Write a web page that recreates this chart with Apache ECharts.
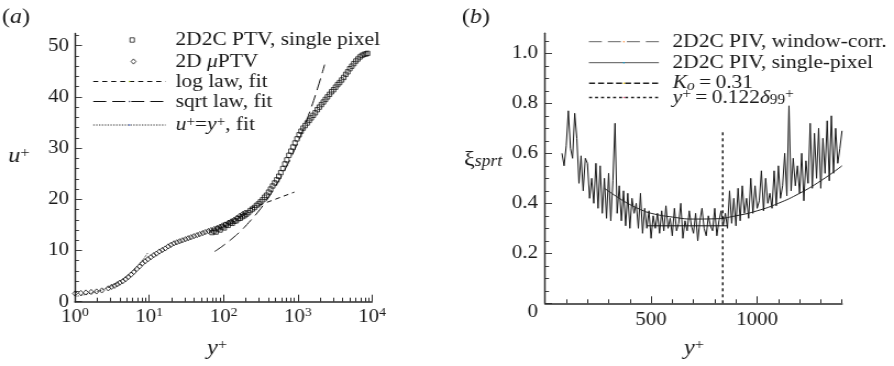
<!DOCTYPE html>
<html><head><meta charset="utf-8">
<script src="https://cdn.jsdelivr.net/npm/echarts@6/dist/echarts.min.js"></script>
<style>
html,body{margin:0;padding:0;background:#fff;overflow:hidden}
#wrap{width:894px;height:366px;overflow:hidden}
#c{width:813px;height:366px;transform:scaleX(1.099631);transform-origin:0 0}
</style></head>
<body><div id="wrap"><div id="c"></div></div>
<script>
// ---------- Panel (a) data ----------
const ptvYp = [70,74.5,79,84,90,96,102,108,115,123,131,139,148,158,168,179,191,203,216,230,245,261,278,296,315,336,357,380,405,431,459,489,521,555,591,629,670,713,760,809,862,918,977,1041,1108,1180,1257,1339,1426,1518,1617,1722,1834,1953,2080,2215,2359,2512,2675,2849,3034,3231,3441,3665,3903,4157,4427,4715,5021,5347,5695,6065,6459,6879,7326,7802,8309,8700];
const ptvU  = [13.5,13.8,13.6,14.2,14.0,14.6,14.4,15.0,14.9,15.4,15.3,15.7,15.8,16.2,16.3,16.6,16.8,17.1,17.4,17.8,18.1,18.4,18.8,19.1,19.5,19.9,20.4,20.8,21.4,22.0,22.6,23.2,23.8,24.5,25.2,26.0,26.9,27.7,28.6,29.4,30.2,31.0,31.8,32.6,33.3,33.9,34.4,34.9,35.4,35.9,36.4,36.9,37.5,38.0,38.5,39.0,39.5,40.0,40.5,41.0,41.4,41.9,42.4,42.8,43.3,43.8,44.4,44.9,45.5,46.0,46.5,47.0,47.4,47.8,48.1,48.3,48.4,48.5];
const muYp = [1.0,1.2,1.4,1.65,1.95,2.3,2.8,3.1,3.4,3.7,4.0,4.4,4.8,5.2,5.7,6.2,6.8,7.4,8.1,8.8,9.6,10.5,11.5,12.5,13.7,15,16.4,18,19.6,21.5,23.5,25.7,28,30.7,33.5,36.6,40,44,48,52.5,57,62.5,68,75,82,89,97,106,116,127,139,152,166,180,195];
const muU  = [1.6,1.7,1.8,1.9,2.0,2.2,2.6,2.9,3.1,3.4,3.7,4.0,4.4,4.8,5.3,5.8,6.4,6.9,7.5,7.9,8.3,8.7,9.1,9.4,9.8,10.1,10.4,10.8,11.1,11.4,11.6,11.8,12.0,12.2,12.4,12.6,12.8,13.0,13.2,13.4,13.6,13.8,14.0,14.2,14.4,14.6,14.9,15.1,15.4,15.7,16.0,16.4,16.8,17.1,17.4];
const logLawYp = [230, 900];
const logLawU  = [18.2, 21.4];
const sqrtYp = [76,100,130,170,220,290,380,500,650,850,1100,1450,1850,2300];
const sqrtU  = [9.8,11.0,12.3,13.8,15.5,17.5,19.8,22.5,25.4,28.8,32.5,37.1,41.7,46.3];
const linYp = [1,2,3,4,5,6,7,8,9,9.5];
const linU  = [1,2,3,4,5,6,7,8,9,9.5];
const xTickValsA = [1,10,100,1000,10000];
const xTickExpA  = ['0','1','2','3','4'];
const xMinorA = [2,3,4,5,6,7,8,9,20,30,40,50,60,70,80,90,200,300,400,500,600,700,800,900,2000,3000,4000,5000,6000,7000,8000,9000];
const yTickValsA = [0,10,20,30,40,50];
const yMinorA = [2,4,6,8,12,14,16,18,22,24,26,28,32,34,36,38,42,44,46,48,52];

// ---------- Panel (b) data ----------
const spYp = [80,90,100,110,120,130,140,150,160,170,180,190,200,210,220,230,240,250,260,270,280,290,300,310,320,330,340,350,360,370,380,390,400,410,420,430,440,450,460,470,480,490,500,510,520,530,540,550,560,570,580,590,600,610,620,630,640,650,660,670,680,690,700,710,720,730,740,750,760,770,780,790,800,810,820,830,840,850,860,870,880,890,900,910,920,930,940,950,960,970,980,990,1000,1010,1020,1030,1040,1050,1060,1070,1080,1090,1100,1110,1120,1130,1140,1150,1160,1170,1180,1190,1200,1210,1220,1230,1240,1250,1260,1270,1280,1290,1300,1310,1320,1330,1340,1350,1360,1370,1380,1390,1400];
const spXi = [0.60,0.55,0.63,0.77,0.62,0.58,0.76,0.66,0.48,0.59,0.45,0.58,0.56,0.42,0.50,0.40,0.56,0.38,0.55,0.36,0.50,0.34,0.52,0.33,0.49,0.72,0.36,0.47,0.33,0.45,0.31,0.44,0.30,0.42,0.36,0.40,0.30,0.44,0.28,0.38,0.30,0.37,0.26,0.35,0.30,0.36,0.28,0.37,0.29,0.39,0.30,0.34,0.27,0.38,0.29,0.32,0.40,0.26,0.33,0.29,0.37,0.31,0.28,0.36,0.25,0.33,0.38,0.30,0.27,0.35,0.31,0.29,0.38,0.27,0.33,0.37,0.31,0.36,0.30,0.45,0.32,0.42,0.31,0.46,0.33,0.47,0.36,0.42,0.34,0.50,0.36,0.47,0.38,0.41,0.53,0.37,0.50,0.40,0.44,0.38,0.53,0.39,0.55,0.42,0.47,0.60,0.43,0.79,0.45,0.58,0.47,0.55,0.44,0.60,0.41,0.57,0.48,0.72,0.46,0.68,0.50,0.70,0.46,0.66,0.52,0.73,0.49,0.75,0.52,0.70,0.56,0.62,0.69];
const wcYp = [280,350,400,450,500,600,700,800,900,1000,1100,1200,1300,1400];
const wcXi = [0.46,0.42,0.395,0.375,0.36,0.345,0.337,0.338,0.35,0.37,0.40,0.44,0.49,0.55];
const koYp = [480, 860];
const koXi = [0.31, 0.31];
const vlineYp = [838, 838];
const vlineXi = [0, 0.69];
const xTickValsB = [500, 1000];
const xMinorB = [100,200,300,400,600,700,800,900,1100,1200,1300,1400];
const yTickValsB = [0,0.2,0.4,0.6,0.8,1.0];
const yTickLabelsB = ['0','0.2','0.4','0.6','0.8','1.0'];
const yMinorB = [0.05,0.1,0.15,0.25,0.3,0.35,0.45,0.5,0.55,0.65,0.7,0.75,0.85,0.9,0.95,1.05];

// ---------- helpers ----------
const S = 1.099631;          // horizontal stretch applied to the whole page
const px = v => v / S;       // physical x -> chart x
const FONT = '"Liberation Serif","Times New Roman",serif';
const TXT = '#1a1a1a';
const AX = '#2a2a2a';
const FT = 19;     // tick label font
const FL = 19.5;   // legend font
const pairs = (xs, ys) => xs.map((x, i) => [x, ys[i]]);
function mkRich(fs, sfs) {
  return {
    i:    {fontFamily: FONT, fontSize: fs, fontStyle: 'italic', lineHeight: 20, color: TXT},
    b:    {fontFamily: FONT, fontSize: fs, lineHeight: 20, color: TXT},
    sup:  {fontFamily: FONT, fontSize: sfs, lineHeight: 12, verticalAlign: 'top', color: TXT},
    isup: {fontFamily: FONT, fontSize: sfs, fontStyle: 'italic', lineHeight: 12, verticalAlign: 'top', color: TXT},
    sub:  {fontFamily: FONT, fontSize: sfs, lineHeight: 12, verticalAlign: 'bottom', color: TXT},
    isub: {fontFamily: FONT, fontSize: sfs, fontStyle: 'italic', lineHeight: 12, verticalAlign: 'bottom', color: TXT},
    z:    {fontFamily: FONT, fontSize: fs, lineHeight: 20, color: TXT, padding: [18, 0, 0, 0]},
    xs:   {fontFamily: FONT, fontSize: 16, fontStyle: 'italic', lineHeight: 14, verticalAlign: 'bottom', color: TXT}
  };
}
const RICH_T = mkRich(FT, 12.5);
const RICH_L = mkRich(FL, 14);
const RICH_H = mkRich(22, 15);
const textBase = {fontFamily: FONT, fontSize: FL, color: TXT, lineHeight: 20, rich: RICH_L};

const LEG_RICH = {
  'u+=y+, fit': '{i|u}{sup|+}={i|y}{sup|+}, fit',
  '2D μPTV': '2D {i|μ}PTV',
  'Ko=0.31': '{i|K}{isub|o}\u2009=\u20090.31',
  'y+=0.122δ99+': '{i|y}{sup|+}\u2009=\u20090.122{i|δ}{sub|99}{sup|+}'
};

function legendItem(name, left, centerY, w, h, textStart, cfg) {
  return Object.assign({
    show: true, data: [name], left: left, top: centerY - 10, padding: 0,
    itemWidth: w, itemHeight: h, itemGap: 0, selectedMode: false, symbolKeepAspect: false,
    formatter: n => LEG_RICH[n] || n,
    textStyle: Object.assign({}, textBase, {padding: [0, 0, 0, Math.max(0, textStart - left - w - 5)]})
  }, cfg);
}

function logAxis(grid, main) {
  return {
    type: 'log', logBase: 10, gridIndex: grid, min: 1, max: 10000, position: 'bottom',
    axisLine: {show: main, lineStyle: {color: AX, width: 1.6}},
    axisTick: main ? {inside: true, length: 7, lineStyle: {color: AX, width: 1}, customValues: xTickValsA}
                   : {inside: true, length: 4, lineStyle: {color: AX, width: 1}, customValues: xMinorA},
    axisLabel: main ? {show: true, margin: 5, customValues: xTickValsA, color: TXT, fontFamily: FONT, fontSize: FT,
      formatter: v => { let k = 0, best = 1e9; xTickValsA.forEach((t, i) => { const d = Math.abs(Math.log10(t) - Math.log10(v)); if (d < best) { best = d; k = i; } }); return '{b|10}{sup|' + xTickExpA[k] + '}'; },
      rich: RICH_T} : {show: false},
    splitLine: {show: false}, minorTick: {show: false}
  };
}
function valAxis(grid, min, max, main, majors, minors, pos, fmt, margin, isY) {
  const lw = isY ? 1.45 : 1.6, tw = isY ? 0.9 : 1;
  const Lmaj = isY ? px(7) : 7, Lmin = isY ? px(4) : 4;
  return {
    type: 'value', gridIndex: grid, min: min, max: max, position: pos,
    axisLine: {show: main, lineStyle: {color: AX, width: lw}},
    axisTick: main ? {inside: true, length: Lmaj, lineStyle: {color: AX, width: tw}, customValues: majors}
                   : {inside: true, length: Lmin, lineStyle: {color: AX, width: tw}, customValues: minors},
    axisLabel: main ? {show: true, margin: margin, customValues: majors, color: TXT, fontFamily: FONT, fontSize: FT, formatter: fmt, rich: RICH_T} : {show: false},
    splitLine: {show: false}
  };
}

const hollow = {color: 'rgba(255,255,255,0)', borderColor: '#000', borderWidth: 0.9};

const option = {
  animation: false,
  backgroundColor: '#fff',
  grid: [
    {left: px(75), width: px(297), top: 33.4, height: 268.3},
    {left: px(545), width: px(297), top: 33.3, height: 270}
  ],
  xAxis: [
    logAxis(0, true), logAxis(0, false),
    valAxis(1, 0, 1400, true, xTickValsB, null, 'bottom', v => { const i = xTickValsB.indexOf(v); return i >= 0 ? String(xTickValsB[i]) : ''; }, 7, false),
    valAxis(1, 0, 1400, false, null, xMinorB, 'bottom', null, 0, false)
  ],
  yAxis: [
    valAxis(0, 0, 52.4, true, yTickValsA, null, 'left', v => String(v), px(6), true),
    valAxis(0, 0, 52.4, false, null, yMinorA, 'left', null, 0, true),
    valAxis(1, 0, 1.08, true, yTickValsB, null, 'left', v => { let k = 0; yTickValsB.forEach((t, i) => { if (Math.abs(t - v) < 1e-6) k = i; }); return k === 0 ? '{z|' + yTickLabelsB[0] + '}' : yTickLabelsB[k]; }, px(7), true),
    valAxis(1, 0, 1.08, false, null, yMinorB, 'left', null, 0, true)
  ],
  legend: [
    legendItem('2D2C PTV, single pixel', px(131.7) - px(2.2), 40, px(4.4), 4.4, px(175),
      {itemStyle: hollow, data: [{name: '2D2C PTV, single pixel', icon: 'rect'}]}),
    legendItem('2D μPTV', px(133) - px(2.5), 61.5, px(5), 5.2, px(175),
      {itemStyle: hollow, data: [{name: '2D μPTV', icon: 'diamond'}]}),
    legendItem('log law, fit', px(92.7), 81.5, px(72.3), 2, px(175),
      {lineStyle: {color: '#111', width: 1, type: [px(5), px(4)]}}),
    legendItem('sqrt law, fit', px(92.7), 101.5, px(72.3), 2, px(175),
      {lineStyle: {color: '#111', width: 1, type: [px(13), px(6)]}}),
    legendItem('u+=y+, fit', px(92.7), 125, px(72.3), 2, px(175),
      {lineStyle: {color: '#333', width: 1, type: [1.3, 1.3]}}),
    legendItem('2D2C PIV, window-corr.', px(588.3), 41.7, px(70), 2, px(672),
      {lineStyle: {color: '#666', width: 1, type: [px(13), px(6)]}}),
    legendItem('2D2C PIV, single-pixel', px(588.3), 62.7, px(70), 2, px(672),
      {lineStyle: {color: '#555', width: 1, type: 'solid'}}),
    legendItem('Ko=0.31', px(588.3), 83.3, px(70), 2, px(672),
      {lineStyle: {color: '#222', width: 1.4, type: [px(6), px(3)]}}),
    legendItem('y+=0.122δ99+', px(588.3), 97.5, px(70), 2, px(672),
      {lineStyle: {color: '#222', width: 1.4, type: [px(3), px(3)]}})
  ],
  graphic: [
    {type: 'text', x: px(16), y: 17, style: {text: '({i|a})', rich: RICH_H, fontFamily: FONT, fontSize: 22, fill: TXT, align: 'center', verticalAlign: 'middle'}},
    {type: 'text', x: px(476), y: 17, style: {text: '({i|b})', rich: RICH_H, fontFamily: FONT, fontSize: 22, fill: TXT, align: 'center', verticalAlign: 'middle'}},
    {type: 'text', x: px(19), y: 156, style: {text: '{i|u}{sup|+}', rich: RICH_H, fontFamily: FONT, fontSize: 22, fill: TXT, align: 'center', verticalAlign: 'middle'}},
    {type: 'text', x: px(217), y: 348, style: {text: '{i|y}{sup|+}', rich: RICH_H, fontFamily: FONT, fontSize: 22, fill: TXT, align: 'center', verticalAlign: 'middle'}},
    {type: 'text', x: px(694), y: 348, style: {text: '{i|y}{sup|+}', rich: RICH_H, fontFamily: FONT, fontSize: 22, fill: TXT, align: 'center', verticalAlign: 'middle'}},
    {type: 'text', x: px(483), y: 160, style: {text: '{b|ξ}{xs|sprt}', rich: RICH_H, fontFamily: FONT, fontSize: 22, fill: TXT, align: 'center', verticalAlign: 'middle'}}
  ],
  series: [
    {name: 'u+=y+, fit', type: 'line', xAxisIndex: 0, yAxisIndex: 0, data: pairs(linYp, linU), symbol: 'none', smooth: true,
      lineStyle: {color: '#333', width: 1, type: [1.3, 1.3]}, z: 3},
    {name: 'log law, fit', type: 'line', xAxisIndex: 0, yAxisIndex: 0, data: pairs(logLawYp, logLawU), symbol: 'none',
      lineStyle: {color: '#111', width: 1, type: [px(5), px(4)]}, z: 3},
    {name: 'sqrt law, fit', type: 'line', xAxisIndex: 0, yAxisIndex: 0, data: pairs(sqrtYp, sqrtU), symbol: 'none', smooth: true,
      lineStyle: {color: '#111', width: 1, type: [px(13), px(6)]}, z: 3},
    {name: '2D μPTV', type: 'scatter', xAxisIndex: 0, yAxisIndex: 0, data: pairs(muYp, muU), symbol: 'diamond', symbolSize: [px(5), 5.2],
      itemStyle: hollow, z: 4},
    {name: '2D2C PTV, single pixel', type: 'scatter', xAxisIndex: 0, yAxisIndex: 0, data: pairs(ptvYp, ptvU), symbol: 'rect', symbolSize: [px(4.4), 4.4],
      itemStyle: hollow, z: 4},

    {name: '2D2C PIV, window-corr.', type: 'line', xAxisIndex: 2, yAxisIndex: 2, data: pairs(wcYp, wcXi), symbol: 'none', smooth: true,
      lineStyle: {color: '#222', width: 1, type: 'solid'}, z: 3},
    {name: '2D2C PIV, single-pixel', type: 'line', xAxisIndex: 2, yAxisIndex: 2, data: pairs(spYp, spXi), symbol: 'none',
      lineStyle: {color: '#1a1a1a', width: 1}, z: 2},
    {name: 'Ko=0.31', type: 'line', xAxisIndex: 2, yAxisIndex: 2, data: pairs(koYp, koXi), symbol: 'none',
      lineStyle: {color: '#111', width: 1, type: 'solid'}, z: 3},
    {name: 'y+=0.122δ99+', type: 'line', xAxisIndex: 2, yAxisIndex: 2, data: pairs(vlineYp, vlineXi), symbol: 'none',
      lineStyle: {color: '#111', width: 1.4, type: [3, 3]}, z: 3}
  ]
};
const chart = echarts.init(document.getElementById('c'));
chart.setOption(option);
</script>
</body></html>
